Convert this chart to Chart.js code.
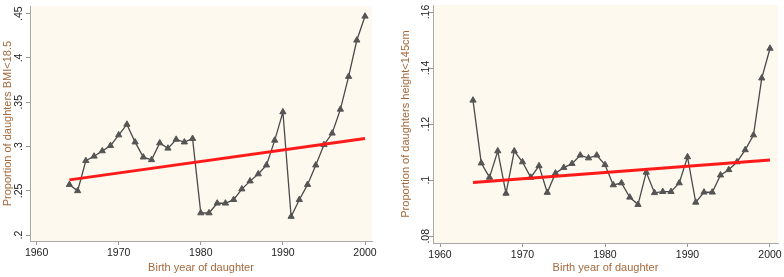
<!DOCTYPE html>
<html>
<head>
<meta charset="utf-8">
<script src="https://cdn.jsdelivr.net/npm/chart.js@4/dist/chart.umd.min.js"></script>
<style>
  html, body { margin: 0; padding: 0; background: #fff; }
  #wrap { position: relative; width: 784px; height: 277px; }
  .box { position: absolute; top: 0; width: 392px; height: 277px; }
</style>
</head>
<body>
<div id="wrap">
  <div class="box" style="left:0"><canvas id="bmi"></canvas></div>
  <div class="box" style="left:392px"><canvas id="height"></canvas></div>
</div>
<script>
// birth years of daughters, 1964-2000
const years = [];
for (let y = 1964; y <= 2000; y++) years.push(y);

// proportion of daughters with BMI < 18.5
const bmiShare = [
  0.257, 0.250, 0.284, 0.289, 0.295, 0.301, 0.313, 0.325, 0.305, 0.288,
  0.285, 0.304, 0.298, 0.308, 0.305, 0.309, 0.225, 0.225, 0.236, 0.236,
  0.240, 0.252, 0.261, 0.269, 0.279, 0.307, 0.339, 0.221, 0.240, 0.257,
  0.279, 0.302, 0.315, 0.342, 0.379, 0.420, 0.447
];

// proportion of daughters with height < 145cm
const heightShare = [
  0.1285, 0.1061, 0.1010, 0.1104, 0.0953, 0.1104, 0.1065, 0.1010, 0.1051, 0.0956,
  0.1025, 0.1045, 0.1059, 0.1089, 0.1079, 0.1089, 0.1055, 0.0983, 0.0990, 0.0939,
  0.0913, 0.1028, 0.0955, 0.0959, 0.0959, 0.0990, 0.1083, 0.0921, 0.0957, 0.0957,
  0.1018, 0.1037, 0.1065, 0.1108, 0.1161, 0.1364, 0.1470
];

// linear fit end points
const fitYears = [1964, 2000];
const bmiFit = [0.2624, 0.309];
const heightFit = [0.0992, 0.1072];

// tick labels
const yearTicks = [1960, 1970, 1980, 1990, 2000];
const bmiTicks = [0.2, 0.25, 0.3, 0.35, 0.4, 0.45];
const heightTicks = [0.08, 0.1, 0.12, 0.14, 0.16];

const plotBg = {
  id: 'plotBg',
  beforeDraw(chart) {
    const { ctx, chartArea: a } = chart;
    ctx.save();
    ctx.fillStyle = '#fdf9ee';
    ctx.fillRect(a.left, a.top, a.right - a.left, a.bottom - a.top);
    ctx.restore();
  }
};

const stataLabel = v => String(+v.toFixed(3)).replace(/^0\./, '.');

function makeChart(id, values, fit, yTicks, opts) {
  const ctx = document.getElementById(id).getContext('2d');
  return new Chart(ctx, {
    type: 'line',
    data: {
      datasets: [
        {
          data: fitYears.map((x, i) => ({ x: x, y: fit[i] })),
          borderColor: '#ff1a1a',
          borderWidth: 3,
          pointRadius: 0,
          order: 0
        },
        {
          data: years.map((x, i) => ({ x: x, y: values[i] })),
          borderColor: '#4a4a4a',
          borderWidth: 1.3,
          pointStyle: 'triangle',
          pointRadius: 3.6,
          pointBackgroundColor: '#555',
          pointBorderColor: '#555',
          pointBorderWidth: 1,
          order: 1
        }
      ]
    },
    options: {
      responsive: false,
      animation: false,
      events: [],
      layout: { padding: opts.padding },
      plugins: { legend: { display: false }, tooltip: { enabled: false } },
      scales: {
        x: {
          type: 'linear',
          min: opts.xMin,
          max: opts.xMax,
          afterBuildTicks: s => { s.ticks = yearTicks.map(v => ({ value: v })); },
          afterFit: s => { s.height = opts.xHeight; },
          border: { display: true, color: '#aaa', width: 1 },
          grid: { drawOnChartArea: false, drawTicks: true, tickLength: 4, color: '#999' },
          ticks: { color: '#222', font: { family: 'Liberation Sans, Arial', size: 10.5 }, padding: 1.5,
                   callback: v => String(v) },
          title: {
            display: true,
            text: 'Birth year of daughter',
            color: '#a3683c',
            font: { family: 'Liberation Sans, Arial', size: 11 },
            padding: { top: 0, bottom: 2.5 }
          }
        },
        y: {
          type: 'linear',
          min: opts.yMin,
          max: opts.yMax,
          afterBuildTicks: s => { s.ticks = yTicks.map(v => ({ value: v })); },
          afterFit: s => { s.width = opts.yWidth; },
          border: { display: true, color: '#aaa', width: 1 },
          grid: { drawOnChartArea: false, drawTicks: true, tickLength: 4, color: '#999' },
          ticks: {
            color: '#222',
            font: { family: 'Liberation Sans, Arial', size: 10.5 },
            minRotation: 90,
            maxRotation: 90,
            crossAlign: 'center',
            padding: opts.yTickPad,
            callback: v => stataLabel(v)
          },
          title: {
            display: true,
            text: opts.yTitle,
            color: '#a3683c',
            font: { family: 'Liberation Sans, Arial', size: 11 },
            padding: { top: opts.yTitlePad, bottom: 0 }
          }
        }
      }
    },
    plugins: [plotBg]
  });
}

function setSize(id) {
  const c = document.getElementById(id);
  c.width = 392; c.height = 277;
  c.style.width = '392px'; c.style.height = '277px';
}
setSize('bmi');
setSize('height');

makeChart('bmi', bmiShare, bmiFit, bmiTicks, {
  padding: { left: 0, right: 20, top: 1, bottom: 0 },
  xMin: 1959.2, xMax: 2000.85,
  yMin: 0.1934, yMax: 0.4583,
  xHeight: 36, yWidth: 30,
  yTickPad: 0, yTitlePad: 1.4,
  yTitle: 'Proportion of daughters BMI<18.5'
});

makeChart('height', heightShare, heightFit, heightTicks, {
  padding: { left: 0, right: 6, top: 3, bottom: 0 },
  xMin: 1959.15, xMax: 2000.97,
  yMin: 0.0776, yMax: 0.1625,
  xHeight: 34, yWidth: 41,
  yTickPad: -4.8, yTitlePad: 7.4,
  yTitle: 'Proportion of daughters height<145cm'
});
</script>
</body>
</html>
